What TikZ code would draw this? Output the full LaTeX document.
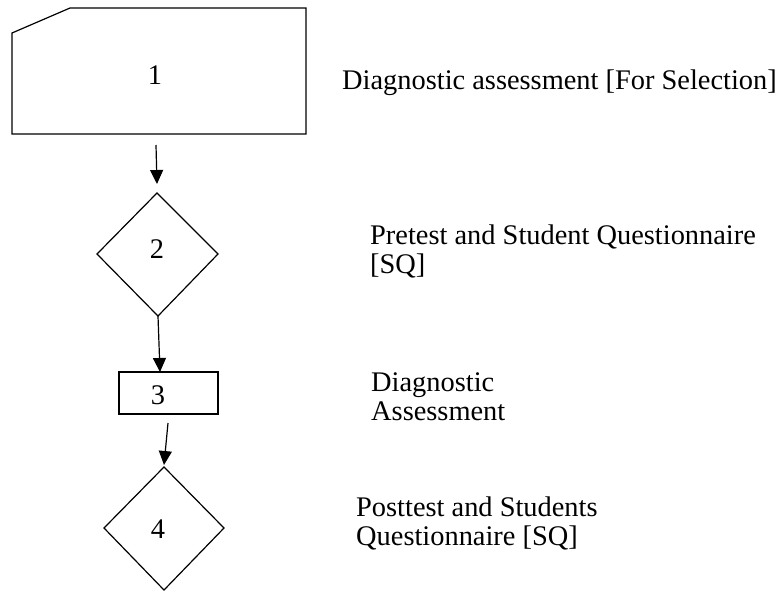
\documentclass[tikz,border=0pt]{standalone}
\usepackage{fontspec}
\setmainfont{Liberation Serif}
\usetikzlibrary{arrows.meta}
\begin{document}
\begin{tikzpicture}[x=1pt,y=-1pt,
  shapeline/.style={draw=black,line width=1.2pt,line join=miter},
  conn/.style={draw=black,line width=1.2pt,-{Triangle[length=14pt,width=13pt]}},
  num/.style={font=\fontsize{28.4}{30}\selectfont,inner sep=0pt,anchor=base},
  lbl/.style={font=\fontsize{28.4}{30}\selectfont,inner sep=0pt,anchor=base west}]
\useasboundingbox (0,0) rectangle (776,590);
% shape 1: card
\draw[shapeline] (12,33) -- (70,8) -- (306,8) -- (306,134) -- (12,134) -- cycle;
\node[num] (n1) at (155,84) {1};
\coordinate (s1) at (156,145);
% diamond 2
\draw[shapeline] (157,193) -- (218,254) -- (158,316) -- (97,254) -- cycle;
\coordinate (d2bot) at (158,316);
\node[num] (n2) at (157,258) {2};
% rect 3
\draw[shapeline] (119,372) rectangle (218,414);
\coordinate (r3top) at (160,372);
\coordinate (r3bot) at (168,423);
\node[num] (n3) at (158,404) {3};
% diamond 4
\draw[shapeline] (164,467) -- (224,528) -- (164,590) -- (104,528) -- cycle;
\node[num] (n4) at (158,538) {4};
% connectors
\coordinate (e1) at (157,184);
\coordinate (e3) at (164,465);
\draw[conn] (s1) -- (e1);
\draw[conn] (d2bot) -- (r3top);
\draw[conn] (r3bot) -- (e3);
% labels
\node[lbl] (t1) at (342,89) {Diagnostic assessment [For Selection]};
\node[lbl] (t2a) at (370,244) {Pretest and Student Questionnaire};
\node[lbl] (t2b) at (370,273) {[SQ]};
\node[lbl] (t3a) at (371,391) {Diagnostic};
\node[lbl] (t3b) at (371,420) {Assessment};
\node[lbl] (t4a) at (356,516) {Posttest and Students};
\node[lbl] (t4b) at (356,545) {Questionnaire [SQ]};
\end{tikzpicture}
\end{document}
